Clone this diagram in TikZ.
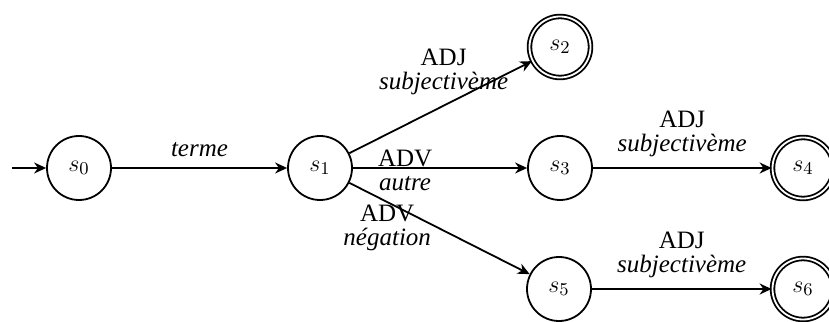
\documentclass[tikz,border=0pt]{standalone}
\usepackage{fontspec}
\setmainfont{Liberation Serif}
\usetikzlibrary{arrows.meta}
\begin{document}
\begin{tikzpicture}[x=1pt,y=1pt,
  every node/.style={font=\fontsize{12.5}{12}\selectfont},
  state/.style={circle, draw, line width=0.9pt, minimum size=32pt, inner sep=0pt},
  accept/.style={circle, draw, line width=0.9pt, double, double distance=0.9pt, minimum size=30.5pt, inner sep=0pt},
  trans/.style={line width=0.9pt, -{Stealth[length=6pt,width=5.5pt]}},
  lab/.style={align=center}]
\useasboundingbox (0,0) rectangle (414.5,160.5);
\node[state]  (s0) at (39.5,76.5) {$s_0$};
\node[state]  (s1) at (160,76.5)  {$s_1$};
\node[accept] (s2) at (280,137)   {$s_2$};
\node[state]  (s3) at (280,76.5)  {$s_3$};
\node[accept] (s4) at (401.5,76.5) {$s_4$};
\node[state]  (s5) at (279.5,16)  {$s_5$};
\node[accept] (s6) at (401.5,16)  {$s_6$};
\coordinate (init) at (6,76.5);
\draw[trans] (init) -- (s0);
\draw[trans] (s0) -- node[above, yshift=2pt] {\textit{terme}} (s1);
\draw[trans] (s1) -- node[pos=0.516, above, yshift=1.5pt, lab] {ADJ\\\textit{subjectivème}} (s2);
\draw[trans] (s1) -- node[pos=0.30, yshift=-1pt, lab] {ADV\\\textit{autre}} (s3);
\draw[trans] (s1) -- node[pos=0.21, yshift=-13pt, lab] {ADV\\\textit{négation}} (s5);
\draw[trans] (s3) -- node[above, yshift=2pt, lab] {ADJ\\\textit{subjectivème}} (s4);
\draw[trans] (s5) -- node[above, yshift=2pt, lab] {ADJ\\\textit{subjectivème}} (s6);
\end{tikzpicture}
\end{document}
